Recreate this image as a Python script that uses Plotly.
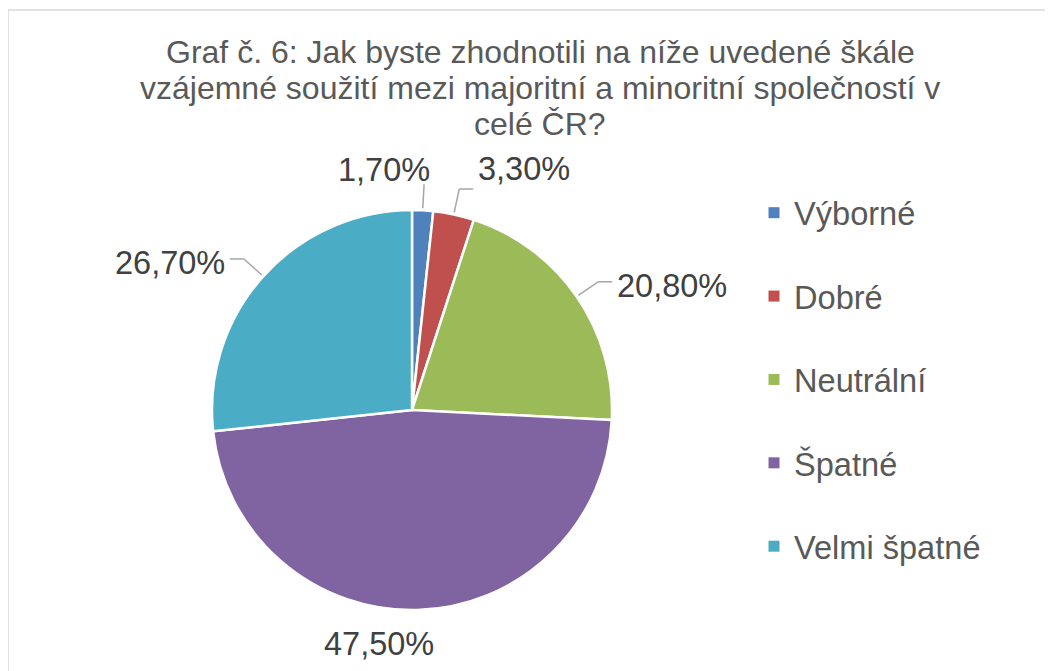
import math
import plotly.graph_objects as go

# ---- data ----
categories = ["Výborné", "Dobré", "Neutrální", "Špatné", "Velmi špatné"]
values = [1.7, 3.3, 20.8, 47.5, 26.7]
title_lines = [
    "Graf č. 6: Jak byste zhodnotili na níže uvedené škále",
    "vzájemné soužití mezi majoritní a minoritní společností v",
    "celé ČR?",
]

# ---- style ----
colors = ["#4F81BD", "#C0504D", "#9BBB59", "#8064A2", "#4BACC6"]
W, H = 1053, 671
PAGE_OFF = 8                        # page body margin
CX, CY, R = 412, 410, 200           # pie centre / radius in px
FONT = "Liberation Sans, Arial, sans-serif"
LABEL_SIZE = 32.5
TITLE_SIZE = 32
LEGEND_SIZE = 32.6
GAP_SIDE, GAP_BOTTOM = 26, 14
ELBOW = 14
LEADER_COLOR = "#A6A6A6"


def px(x):
    return (x - PAGE_OFF) / W


def py(y):
    return 1 - (y - PAGE_OFF) / H


fig = go.Figure()
fig.add_trace(go.Pie(
    labels=categories, values=values, sort=False, direction="clockwise",
    rotation=0, textinfo="none", showlegend=False,
    marker=dict(colors=colors, line=dict(color="white", width=2.5)),
    domain=dict(x=[px(CX - R), px(CX + R)], y=[py(CY + R), py(CY - R)]),
))

# legend entries
for cat, col in zip(categories, colors):
    fig.add_trace(go.Scatter(
        x=[None], y=[None], mode="markers", name=cat, legendgroup=cat,
        marker=dict(symbol="square", size=11, color=col), showlegend=True,
    ))

# data labels with leader lines
total = sum(values)
annotations = []
shapes = []
cum = 0.0
for v in values:
    theta = math.radians((cum + v / 2) / total * 360)
    cum += v
    s, c = math.sin(theta), math.cos(theta)
    bottom = c < -0.7 and abs(s) < 0.3
    g = GAP_BOTTOM if bottom else GAP_SIDE
    ex, ey = CX + (R + 2) * s, CY - (R + 2) * c
    qx, qy = CX + (R + g) * s, CY - (R + g) * c
    text = f"{v:.2f}".replace(".", ",") + "%"
    if abs(s) < 0.1:
        xa = "right"
        if c > 0:
            tx, ya, ty = qx + 8, "bottom", qy + 6
        else:
            tx, ya, ty = qx + 18, "top", qy
        pts = [(ex, ey), (qx, qy)]
    else:
        sign = 1 if s > 0 else -1
        xa = "left" if s > 0 else "right"
        if c >= 0.7:
            ya = "bottom"
        elif c <= -0.7:
            ya = "top"
        else:
            ya = "middle"
        kx = qx + sign * ELBOW
        tx = kx + sign * 3
        ty = qy + (4 if ya == "middle" else 0)
        pts = [(ex, ey), (qx, qy), (kx, qy)]
    if g >= 20:
        for (x0, y0), (x1, y1) in zip(pts[:-1], pts[1:]):
            shapes.append(dict(type="line", xref="paper", yref="paper",
                               x0=px(x0), y0=py(y0), x1=px(x1), y1=py(y1),
                               line=dict(color=LEADER_COLOR, width=1.5)))
    annotations.append(dict(
        text=text, x=px(tx), y=py(ty), xref="paper", yref="paper",
        xanchor=xa, yanchor=ya, showarrow=False,
        font=dict(size=LABEL_SIZE, color="#404040", family=FONT),
    ))

# title lines
TITLE_X, TITLE_Y0, TITLE_STEP = 540, 52, 36
for i, line in enumerate(title_lines):
    annotations.append(dict(
        text=line, x=px(TITLE_X), y=py(TITLE_Y0 + i * TITLE_STEP),
        xref="paper", yref="paper", xanchor="center", yanchor="middle",
        showarrow=False,
        font=dict(size=TITLE_SIZE, color="#595959", family=FONT),
    ))

# chart frame
shapes.append(dict(type="rect", xref="paper", yref="paper",
                   x0=px(8), y0=py(10), x1=1.02, y1=-0.02,
                   line=dict(color="#D9D9D9", width=1.5)))

fig.update_layout(
    width=W, height=H,
    margin=dict(l=0, r=0, t=0, b=0),
    paper_bgcolor="white", plot_bgcolor="white",
    font=dict(family=FONT, color="#595959"),
    xaxis=dict(visible=False), yaxis=dict(visible=False),
    legend=dict(x=px(754), y=py(185), xanchor="left", yanchor="top",
                font=dict(size=LEGEND_SIZE, color="#595959", family=FONT),
                tracegroupgap=38, bgcolor="rgba(0,0,0,0)"),
    annotations=annotations, shapes=shapes,
)

fig.write_html("out.html")
